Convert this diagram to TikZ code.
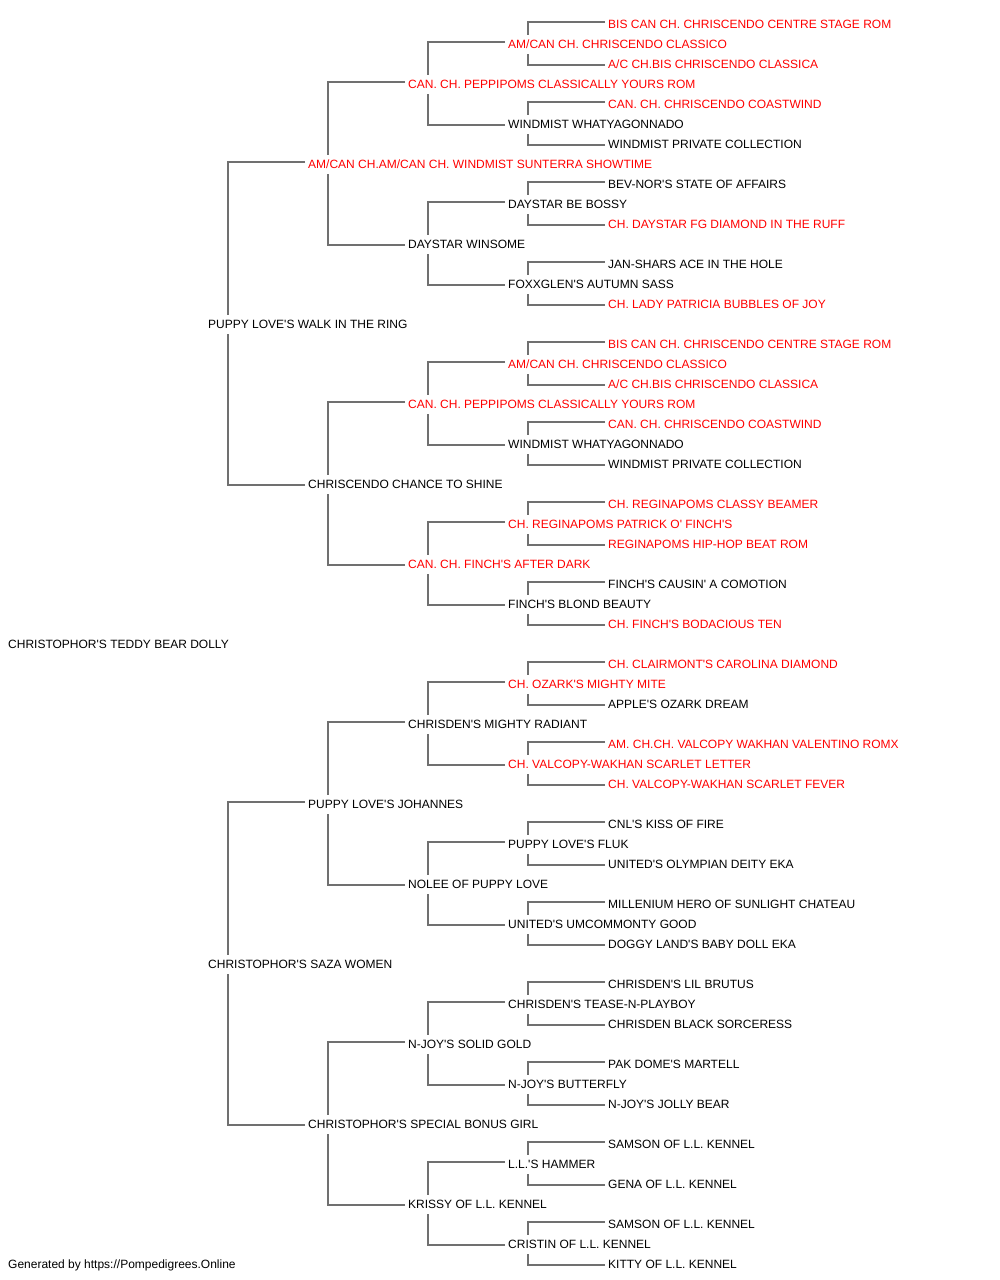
\documentclass[tikz,border=0pt]{standalone}
\usepackage{fontspec}
\setmainfont{Liberation Sans}[Ligatures=TeXOff]
\usetikzlibrary{calc}
\definecolor{linegray}{RGB}{112,112,112}
\definecolor{champred}{RGB}{255,0,0}
\tikzset{
  person/.style={anchor=west, inner xsep=3pt, inner ysep=4.9pt, text height=8.6pt, text depth=0pt, font=\fontsize{12pt}{14pt}\selectfont, text=black},
  champ/.style={person, text=champred},
  link/.style={draw=linegray, line width=1.6pt}
}
\begin{document}
\begin{tikzpicture}[x=1pt,y=-1pt]
\useasboundingbox (0,0) rectangle (1000,1280);
% gen 0
\node[person] (n31) at (5,644.3) {CHRISTOPHOR'S TEDDY BEAR DOLLY};
% gen 1
\node[person] (n15) at (205,324.3) {PUPPY LOVE'S WALK IN THE RING};
\node[person] (n47) at (205,964.3) {CHRISTOPHOR'S SAZA WOMEN};
% gen 2
\node[champ]  (n7)  at (305,164.3) {AM/CAN CH.AM/CAN CH. WINDMIST SUNTERRA SHOWTIME};
\node[person] (n23) at (305,484.3) {CHRISCENDO CHANCE TO SHINE};
\node[person] (n39) at (305,804.3) {PUPPY LOVE'S JOHANNES};
\node[person] (n55) at (305,1124.3) {CHRISTOPHOR'S SPECIAL BONUS GIRL};
% gen 3
\node[champ]  (n3)  at (405,84.3)  {CAN. CH. PEPPIPOMS CLASSICALLY YOURS ROM};
\node[person] (n11) at (405,244.3) {DAYSTAR WINSOME};
\node[champ]  (n19) at (405,404.3) {CAN. CH. PEPPIPOMS CLASSICALLY YOURS ROM};
\node[champ]  (n27) at (405,564.3) {CAN. CH. FINCH'S AFTER DARK};
\node[person] (n35) at (405,724.3) {CHRISDEN'S MIGHTY RADIANT};
\node[person] (n43) at (405,884.3) {NOLEE OF PUPPY LOVE};
\node[person] (n51) at (405,1044.3) {N-JOY'S SOLID GOLD};
\node[person] (n59) at (405,1204.3) {KRISSY OF L.L. KENNEL};
% gen 4
\node[champ]  (n1)  at (505,44.3)   {AM/CAN CH. CHRISCENDO CLASSICO};
\node[person] (n5)  at (505,124.3)  {WINDMIST WHATYAGONNADO};
\node[person] (n9)  at (505,204.3)  {DAYSTAR BE BOSSY};
\node[person] (n13) at (505,284.3)  {FOXXGLEN'S AUTUMN SASS};
\node[champ]  (n17) at (505,364.3)  {AM/CAN CH. CHRISCENDO CLASSICO};
\node[person] (n21) at (505,444.3)  {WINDMIST WHATYAGONNADO};
\node[champ]  (n25) at (505,524.3)  {CH. REGINAPOMS PATRICK O' FINCH'S};
\node[person] (n29) at (505,604.3)  {FINCH'S BLOND BEAUTY};
\node[champ]  (n33) at (505,684.3)  {CH. OZARK'S MIGHTY MITE};
\node[champ]  (n37) at (505,764.3)  {CH. VALCOPY-WAKHAN SCARLET LETTER};
\node[person] (n41) at (505,844.3)  {PUPPY LOVE'S FLUK};
\node[person] (n45) at (505,924.3)  {UNITED'S UMCOMMONTY GOOD};
\node[person] (n49) at (505,1004.3) {CHRISDEN'S TEASE-N-PLAYBOY};
\node[person] (n53) at (505,1084.3) {N-JOY'S BUTTERFLY};
\node[person] (n57) at (505,1164.3) {L.L.'S HAMMER};
\node[person] (n61) at (505,1244.3) {CRISTIN OF L.L. KENNEL};
% gen 5
\node[champ]  (n0)  at (605,24.3)   {BIS CAN CH. CHRISCENDO CENTRE STAGE ROM};
\node[champ]  (n2)  at (605,64.3)   {A/C CH.BIS CHRISCENDO CLASSICA};
\node[champ]  (n4)  at (605,104.3)  {CAN. CH. CHRISCENDO COASTWIND};
\node[person] (n6)  at (605,144.3)  {WINDMIST PRIVATE COLLECTION};
\node[person] (n8)  at (605,184.3)  {BEV-NOR'S STATE OF AFFAIRS};
\node[champ]  (n10) at (605,224.3)  {CH. DAYSTAR FG DIAMOND IN THE RUFF};
\node[person] (n12) at (605,264.3)  {JAN-SHARS ACE IN THE HOLE};
\node[champ]  (n14) at (605,304.3)  {CH. LADY PATRICIA BUBBLES OF JOY};
\node[champ]  (n16) at (605,344.3)  {BIS CAN CH. CHRISCENDO CENTRE STAGE ROM};
\node[champ]  (n18) at (605,384.3)  {A/C CH.BIS CHRISCENDO CLASSICA};
\node[champ]  (n20) at (605,424.3)  {CAN. CH. CHRISCENDO COASTWIND};
\node[person] (n22) at (605,464.3)  {WINDMIST PRIVATE COLLECTION};
\node[champ]  (n24) at (605,504.3)  {CH. REGINAPOMS CLASSY BEAMER};
\node[champ]  (n26) at (605,544.3)  {REGINAPOMS HIP-HOP BEAT ROM};
\node[person] (n28) at (605,584.3)  {FINCH'S CAUSIN' A COMOTION};
\node[champ]  (n30) at (605,624.3)  {CH. FINCH'S BODACIOUS TEN};
\node[champ]  (n32) at (605,664.3)  {CH. CLAIRMONT'S CAROLINA DIAMOND};
\node[person] (n34) at (605,704.3)  {APPLE'S OZARK DREAM};
\node[champ]  (n36) at (605,744.3)  {AM. CH.CH. VALCOPY WAKHAN VALENTINO ROMX};
\node[champ]  (n38) at (605,784.3)  {CH. VALCOPY-WAKHAN SCARLET FEVER};
\node[person] (n40) at (605,824.3)  {CNL'S KISS OF FIRE};
\node[person] (n42) at (605,864.3)  {UNITED'S OLYMPIAN DEITY EKA};
\node[person] (n44) at (605,904.3)  {MILLENIUM HERO OF SUNLIGHT CHATEAU};
\node[person] (n46) at (605,944.3)  {DOGGY LAND'S BABY DOLL EKA};
\node[person] (n48) at (605,984.3)  {CHRISDEN'S LIL BRUTUS};
\node[person] (n50) at (605,1024.3) {CHRISDEN BLACK SORCERESS};
\node[person] (n52) at (605,1064.3) {PAK DOME'S MARTELL};
\node[person] (n54) at (605,1104.3) {N-JOY'S JOLLY BEAR};
\node[person] (n56) at (605,1144.3) {SAMSON OF L.L. KENNEL};
\node[person] (n58) at (605,1184.3) {GENA OF L.L. KENNEL};
\node[person] (n60) at (605,1224.3) {SAMSON OF L.L. KENNEL};
\node[person] (n62) at (605,1264.3) {KITTY OF L.L. KENNEL};
% footer
\node[person] (footer) at (5,1264.3) {Generated by https://Pompedigrees.Online};
% connectors
\foreach \p/\s/\d in {1/0/2,5/4/6,9/8/10,13/12/14,17/16/18,21/20/22,25/24/26,29/28/30,
  33/32/34,37/36/38,41/40/42,45/44/46,49/48/50,53/52/54,57/56/58,61/60/62,
  3/1/5,11/9/13,19/17/21,27/25/29,35/33/37,43/41/45,51/49/53,59/57/61,
  7/3/11,23/19/27,39/35/43,55/51/59,
  15/7/23,47/39/55}{
  \draw[link] ($(n\s.west)+(0,-2.3)$) -| ($(n\p.north west)+(23,0)$);
  \draw[link] ($(n\d.west)+(0,0.7)$) -| ($(n\p.south west)+(23,0)$);
}
\end{tikzpicture}
\end{document}
